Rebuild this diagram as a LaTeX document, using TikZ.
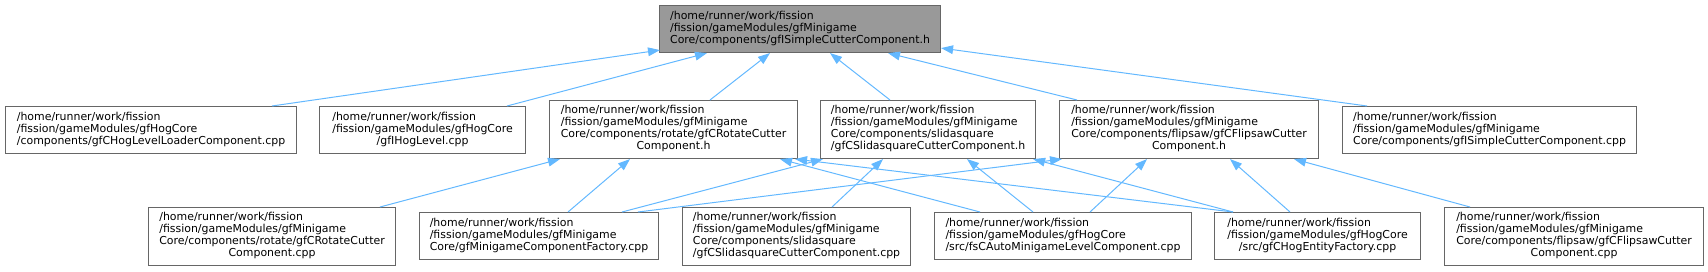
\documentclass[tikz,border=0pt]{standalone}
\usepackage{fontspec}
\setmainfont{DejaVu Sans}
\usetikzlibrary{calc,arrows.meta}
\definecolor{edgeblue}{HTML}{63B8FF}
\definecolor{boxborder}{HTML}{666666}
\definecolor{rootfill}{HTML}{999999}
\newcommand{\doxlab}[2]{\begin{tabular}{@{}l@{}}#1\\\multicolumn{1}{@{}c@{}}{#2}\end{tabular}}
\tikzset{
  filebox/.style={draw=boxborder, line width=0.8pt, fill=white, rectangle, anchor=north west,
    inner sep=0pt, font=\fontsize{8.2pt}{9pt}\selectfont, text=black},
  rootbox/.style={filebox, fill=rootfill},
  dep/.style={draw=edgeblue, line width=0.75pt, -{Triangle[length=9pt,width=6.5pt]}},
}
\begin{document}
\begin{tikzpicture}[x=0.75pt,y=-0.75pt]
\useasboundingbox (0,0) rectangle (1708,271);
% top
\node[rootbox, minimum width=281*0.75pt, minimum height=47*0.75pt] (root) at (659,5)
  {\doxlab{/home/runner/work/fission\\/fission/gameModules/gfMinigame}{Core/components/gfISimpleCutterComponent.h}};
% middle row
\node[filebox, minimum width=291*0.75pt, minimum height=47*0.75pt] (hogloader) at (5,106)
  {\doxlab{/home/runner/work/fission\\/fission/gameModules/gfHogCore}{/components/gfCHogLevelLoaderComponent.cpp}};
\node[filebox, minimum width=206*0.75pt, minimum height=47*0.75pt] (hoglevel) at (319,106)
  {\doxlab{/home/runner/work/fission\\/fission/gameModules/gfHogCore}{/gfIHogLevel.cpp}};
\node[filebox, minimum width=248*0.75pt, minimum height=58*0.75pt] (roth) at (549,100)
  {\doxlab{/home/runner/work/fission\\/fission/gameModules/gfMinigame\\Core/components/rotate/gfCRotateCutter}{Component.h}};
\node[filebox, minimum width=215*0.75pt, minimum height=58*0.75pt] (slidh) at (820,100)
  {\doxlab{/home/runner/work/fission\\/fission/gameModules/gfMinigame\\Core/components/slidasquare}{/gfCSlidasquareCutterComponent.h}};
\node[filebox, minimum width=259*0.75pt, minimum height=58*0.75pt] (fliph) at (1059,100)
  {\doxlab{/home/runner/work/fission\\/fission/gameModules/gfMinigame\\Core/components/flipsaw/gfCFlipsawCutter}{Component.h}};
\node[filebox, minimum width=294*0.75pt, minimum height=47*0.75pt] (simplecpp) at (1342,106)
  {\doxlab{/home/runner/work/fission\\/fission/gameModules/gfMinigame}{Core/components/gfISimpleCutterComponent.cpp}};
% bottom row
\node[filebox, minimum width=247*0.75pt, minimum height=58*0.75pt] (rotcpp) at (148,207)
  {\doxlab{/home/runner/work/fission\\/fission/gameModules/gfMinigame\\Core/components/rotate/gfCRotateCutter}{Component.cpp}};
\node[filebox, minimum width=239*0.75pt, minimum height=47*0.75pt] (factory) at (419,212)
  {\doxlab{/home/runner/work/fission\\/fission/gameModules/gfMinigame}{Core/gfMinigameComponentFactory.cpp}};
\node[filebox, minimum width=228*0.75pt, minimum height=58*0.75pt] (slidcpp) at (682,207)
  {\doxlab{/home/runner/work/fission\\/fission/gameModules/gfMinigame\\Core/components/slidasquare}{/gfCSlidasquareCutterComponent.cpp}};
\node[filebox, minimum width=257*0.75pt, minimum height=47*0.75pt] (auto) at (934,212)
  {\doxlab{/home/runner/work/fission\\/fission/gameModules/gfHogCore}{/src/fsCAutoMinigameLevelComponent.cpp}};
\node[filebox, minimum width=206*0.75pt, minimum height=47*0.75pt] (entity) at (1214,212)
  {\doxlab{/home/runner/work/fission\\/fission/gameModules/gfHogCore}{/src/gfCHogEntityFactory.cpp}};
\node[filebox, minimum width=259*0.75pt, minimum height=58*0.75pt] (flipcpp) at (1444,207)
  {\doxlab{/home/runner/work/fission\\/fission/gameModules/gfMinigame\\Core/components/flipsaw/gfCFlipsawCutter}{Component.cpp}};
% edges to root
\draw[dep] ($(hogloader.north west)+(267,0)$) -- ($(root.south west)+(1,-3)$);
\draw[dep] ($(hoglevel.north west)+(188,0)$) -- ($(root.south west)+(48,0)$);
\draw[dep] ($(roth.north west)+(161,0)$) -- ($(root.south west)+(111,0)$);
\draw[dep] ($(slidh.north west)+(70,0)$) -- ($(root.south west)+(171,0)$);
\draw[dep] ($(fliph.north west)+(18,0)$) -- ($(root.south west)+(229,0)$);
\draw[dep] ($(simplecpp.north west)+(25,0)$) -- ($(root.south east)+(0,-5)$);
% edges to rotate header
\draw[dep] ($(rotcpp.north west)+(232,0)$) -- ($(roth.south west)+(11,0)$);
\draw[dep] ($(factory.north west)+(149,0)$) -- ($(roth.south west)+(81,0)$);
\draw[dep] ($(auto.north west)+(46,0)$) -- ($(roth.south west)+(231,0)$);
\draw[dep] ($(entity.north west)+(19,0)$) -- ($(roth.south east)+(-3,0)$);
% edges to slidasquare header
\draw[dep] ($(factory.north west)+(203,0)$) -- ($(slidh.south west)+(3,0)$);
\draw[dep] ($(slidcpp.north west)+(150,0)$) -- ($(slidh.south west)+(63,0)$);
\draw[dep] ($(auto.north west)+(99,0)$) -- ($(slidh.south west)+(147,0)$);
\draw[dep] ($(entity.north west)+(19,0)$) -- ($(slidh.south east)+(-3,0)$);
% edges to flipsaw header
\draw[dep] ($(factory.north west)+(219,0)$) -- ($(fliph.south west)+(3,0)$);
\draw[dep] ($(auto.north west)+(156,0)$) -- ($(fliph.south west)+(88,0)$);
\draw[dep] ($(entity.north west)+(76,0)$) -- ($(fliph.south west)+(171,0)$);
\draw[dep] ($(flipcpp.north west)+(26,0)$) -- ($(fliph.south west)+(235,0)$);
\end{tikzpicture}
\end{document}
